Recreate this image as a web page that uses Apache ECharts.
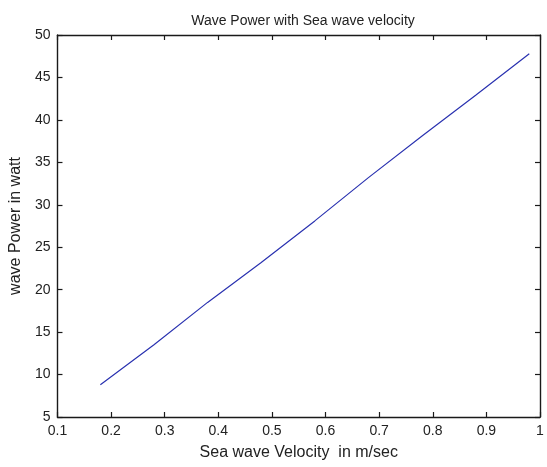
<!DOCTYPE html>
<html>
<head>
<meta charset="utf-8">
<script src="https://cdn.jsdelivr.net/npm/echarts@6/dist/echarts.min.js"></script>
<style>
html, body { margin: 0; padding: 0; background: #fff; }
#chart { width: 547px; height: 467px; }
</style>
</head>
<body>
<div id="chart"></div>
<script>
// sea wave velocity (m/sec) vs wave power (watt)
var velocity = [0.18, 0.28, 0.38, 0.48, 0.58, 0.68, 0.78, 0.88, 0.98];
var power = [8.8, 13.5, 18.5, 23.2, 28.1, 33.2, 38.1, 42.9, 47.8];

var xTicks = [0.1, 0.2, 0.3, 0.4, 0.5, 0.6, 0.7, 0.8, 0.9, 1];
var yTicks = [5, 10, 15, 20, 25, 30, 35, 40, 45, 50];

var font = 'Liberation Sans, Arial, sans-serif';

var seriesData = [];
for (var i = 0; i < velocity.length; i++) {
    seriesData.push([velocity[i], power[i]]);
}

var axisLine = { show: true, onZero: false, lineStyle: { color: '#1a1a1a', width: 1.4 } };
var axisTick = { show: true, inside: true, length: 5, lineStyle: { color: '#1a1a1a', width: 1.2 } };

var chart = echarts.init(document.getElementById('chart'));
chart.setOption({
    animation: false,
    title: {
        text: 'Wave Power with Sea wave velocity',
        left: 298,
        textAlign: 'center',
        top: 9,
        textStyle: { fontFamily: font, fontSize: 14, fontWeight: 'normal', color: '#222' }
    },
    grid: { left: 56, right: 7, top: 35, bottom: 50 },
    xAxis: [
        {
            type: 'value',
            min: xTicks[0], max: xTicks[xTicks.length - 1], interval: 0.1,
            name: 'Sea wave Velocity  in m/sec',
            nameLocation: 'middle',
            nameGap: 28,
            nameTextStyle: { fontFamily: font, fontSize: 16, color: '#222' },
            axisLine: axisLine,
            axisTick: axisTick,
            splitLine: { show: false },
            axisLabel: {
                margin: 7, fontFamily: font, fontSize: 14, color: '#222',
                showMinLabel: true, showMaxLabel: true,
                formatter: function (v) { return +v.toFixed(1) + ''; }
            }
        },
        {
            type: 'value', position: 'top',
            min: xTicks[0], max: xTicks[xTicks.length - 1], interval: 0.1,
            axisLine: axisLine, axisTick: axisTick,
            axisLabel: { show: false }, splitLine: { show: false }
        }
    ],
    yAxis: [
        {
            type: 'value',
            min: yTicks[0], max: yTicks[yTicks.length - 1], interval: 5,
            name: 'wave Power in watt',
            nameLocation: 'middle',
            nameGap: 29,
            nameTextStyle: { fontFamily: font, fontSize: 16, color: '#222' },
            axisLine: axisLine,
            axisTick: axisTick,
            splitLine: { show: false },
            axisLabel: { margin: 7, fontFamily: font, fontSize: 14, color: '#222' }
        },
        {
            type: 'value', position: 'right',
            min: yTicks[0], max: yTicks[yTicks.length - 1], interval: 5,
            axisLine: axisLine, axisTick: axisTick,
            axisLabel: { show: false }, splitLine: { show: false }
        }
    ],
    series: [
        {
            type: 'line',
            data: seriesData,
            showSymbol: false,
            symbol: 'none',
            lineStyle: { color: '#2a32b0', width: 1.2 }
        }
    ]
});
</script>
</body>
</html>
